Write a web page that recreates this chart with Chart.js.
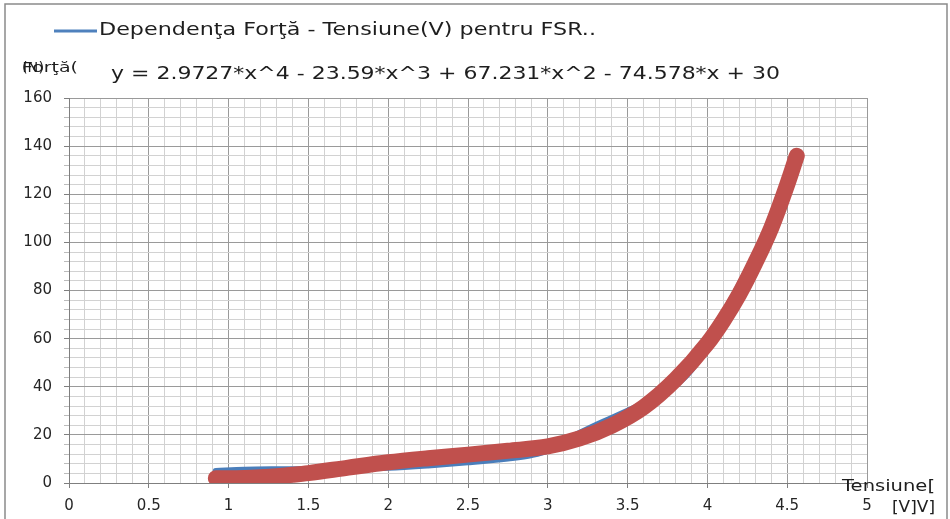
<!DOCTYPE html>
<html>
<head>
<meta charset="utf-8">
<script src="https://cdn.jsdelivr.net/npm/chart.js@4/dist/chart.umd.min.js"></script>
<style>
  html, body { margin: 0; padding: 0; background: #fff; }
  #wrap { width: 950px; height: 519px; position: relative; }
</style>
</head>
<body>
<div id="wrap"><canvas id="fsrChart" width="950" height="519"></canvas></div>
<script>
// masuratori FSR: tensiune [V] si forta [N]
const tensiuneMas = [0.92, 1.1, 1.3, 1.55, 1.8, 2.0, 2.25, 2.5, 2.75, 2.9, 3.0, 3.1, 3.25, 3.4, 3.5, 3.6, 3.7, 3.8, 3.9, 4.0, 4.1, 4.2, 4.3, 4.4, 4.5, 4.56];
const fortaMas = [5.0, 5.5, 5.7, 5.8, 6.0, 6.3, 7.3, 8.6, 10.2, 11.6, 13.5, 17.5, 22.5, 27.0, 30.0, 33.0, 36.0, 40.5, 47.0, 57.5, 70.0, 82.5, 95, 107, 124, 135];

// curba de aproximare (polinom grad 4)
const tensiuneFit = [0.92, 1.0, 1.1, 1.2, 1.3, 1.4, 1.5, 1.75, 2.0, 2.25, 2.5, 2.75, 3.0, 3.2, 3.4, 3.6, 3.8, 4.0, 4.1, 4.2, 4.3, 4.4, 4.5, 4.56];
const fortaFit = [2.0, 2.0, 2.1, 2.4, 2.8, 3.4, 4.1, 6.4, 8.6, 10.3, 11.8, 13.4, 15.2, 18.5, 23.8, 31.5, 43.0, 58.0, 67.5, 78.5, 91.5, 106, 124, 136];

const legendText = 'Dependenţa Forţă - Tensiune(V) pentru FSR..';
const equationText = 'y = 2.9727*x^4 - 23.59*x^3 + 67.231*x^2 - 74.578*x + 30';

const toPoints = (xs, ys) => xs.map((x, i) => ({ x, y: ys[i] }));
const isMultiple = (v, step) => Math.abs(v / step - Math.round(v / step)) < 1e-6;
const FONT = '"DejaVu Sans", "Liberation Sans", sans-serif';

// scrie textul intins pe orizontala pana la latimea data
function fitText(c, text, x, y, width) {
  const w = c.measureText(text).width;
  c.save();
  c.translate(x, y);
  c.scale(width / w, 1);
  c.fillText(text, 0, 0);
  c.restore();
}

// texte desenate peste grafic + chenarul exterior
const decor = {
  id: 'decor',
  beforeDraw(chart) {
    const c = chart.ctx;
    c.save();
    c.fillStyle = '#fff';
    c.fillRect(0, 0, chart.width, chart.height);
    c.strokeStyle = '#8a8a8a';
    c.lineWidth = 1.5;
    c.strokeRect(5, 4, 942, 530);
    c.restore();
  },
  afterDraw(chart) {
    const c = chart.ctx;
    c.save();
    c.textBaseline = 'middle';
    // legenda
    c.strokeStyle = '#4f81bd';
    c.lineWidth = 3;
    c.beginPath();
    c.moveTo(54, 31);
    c.lineTo(97, 31);
    c.stroke();
    c.fillStyle = '#1e1e1e';
    c.font = '17px ' + FONT;
    fitText(c, legendText, 99, 31, 497);
    // ecuatia
    c.font = '18px ' + FONT;
    fitText(c, equationText, 111, 74, 669);
    // titlu axa Y (doua texte suprapuse)
    c.font = '14px ' + FONT;
    fitText(c, 'Forţă(', 22, 68, 56);
    fitText(c, '(N)', 22, 68, 22);
    // titlu axa X
    c.font = '15px ' + FONT;
    fitText(c, 'Tensiune[', 842, 487, 93);
    fitText(c, '[V]V]', 892, 508, 43);
    c.restore();
  }
};

const ctx = document.getElementById('fsrChart').getContext('2d');
new Chart(ctx, {
  type: 'scatter',
  data: {
    datasets: [
      {
        label: 'Forta masurata',
        data: toPoints(tensiuneMas, fortaMas),
        showLine: true,
        borderColor: '#4a7ebb',
        borderWidth: 6,
        pointRadius: 0,
        cubicInterpolationMode: 'monotone',
        borderCapStyle: 'round',
        borderJoinStyle: 'round',
        order: 2
      },
      {
        label: 'Aproximare',
        data: toPoints(tensiuneFit, fortaFit),
        showLine: true,
        borderColor: '#c0504d',
        borderWidth: 16,
        pointRadius: 0,
        cubicInterpolationMode: 'monotone',
        borderCapStyle: 'round',
        borderJoinStyle: 'round',
        order: 1
      }
    ]
  },
  options: {
    responsive: false,
    animation: false,
    layout: { padding: { left: 0, top: 98, right: 83, bottom: 0 } },
    plugins: {
      legend: { display: false },
      tooltip: { enabled: false }
    },
    scales: {
      x: {
        type: 'linear',
        min: 0,
        max: 5,
        afterFit: s => { s.height = 36; },
        border: { color: '#7f7f7f', width: 1 },
        grid: {
          color: c => isMultiple(c.tick.value, 0.5) ? '#9a9a9a' : '#d2d2d2',
          tickColor: c => isMultiple(c.tick.value, 0.5) ? '#7f7f7f' : 'rgba(0,0,0,0)',
          tickLength: 5
        },
        ticks: {
          stepSize: 0.1,
          autoSkip: false,
          maxRotation: 0,
          padding: 9,
          color: '#262626',
          font: { family: FONT, size: 15 },
          callback: v => isMultiple(v, 0.5) ? String(Math.round(v * 10) / 10) : ''
        }
      },
      y: {
        min: 0,
        max: 160,
        afterFit: s => { s.width = 69; },
        border: { color: '#7f7f7f', width: 1 },
        grid: {
          color: c => isMultiple(c.tick.value, 20) ? '#9a9a9a' : '#d2d2d2',
          tickColor: c => isMultiple(c.tick.value, 20) ? '#7f7f7f' : '#bcbcbc',
          tickLength: 5
        },
        ticks: {
          stepSize: 4,
          autoSkip: false,
          padding: 12,
          color: '#262626',
          font: { family: FONT, size: 15 },
          callback: v => isMultiple(v, 20) ? String(v) : ''
        }
      }
    }
  },
  plugins: [decor]
});
</script>
</body>
</html>
